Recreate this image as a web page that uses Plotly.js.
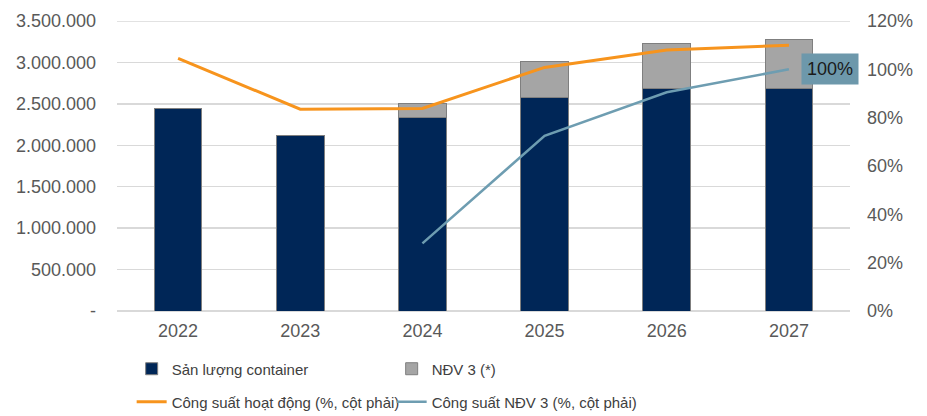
<!DOCTYPE html>
<html>
<head>
<meta charset="utf-8">
<script src="https://cdn.plot.ly/plotly-3.0.1.min.js"></script>
<style>html,body{margin:0;padding:0;background:#fff;}#chart{width:927px;height:416px;}</style>
</head>
<body>
<div id="chart"></div>
<script>
const years = ['2022', '2023', '2024', '2025', '2026', '2027'];
const sanLuong = [2450000, 2120000, 2335000, 2575000, 2685000, 2685000];
const ndv3 = [null, null, 170000, 440000, 545000, 595000];
const congSuatHoatDong = [1.045, 0.835, 0.838, 1.008, 1.08, 1.10];
const congSuatNDV3 = [null, null, 0.28, 0.725, 0.905, 1.0];
const leftTickVals = [0, 500000, 1000000, 1500000, 2000000, 2500000, 3000000, 3500000];
const leftTickText = ['-', '500.000', '1.000.000', '1.500.000', '2.000.000', '2.500.000', '3.000.000', '3.500.000'];
const seriesNames = ['Sản lượng container', 'NĐV 3 (*)', 'Công suất hoạt động (%, cột phải)', 'Công suất NĐV 3 (%, cột phải)'];
const labelText = '100%';

const FONT = 'Liberation Sans, Arial, sans-serif';
const traces = [
  {type: 'bar', x: years, y: sanLuong, name: seriesNames[0], width: 0.39,
   marker: {color: '#002657', line: {color: '#7f7f7f', width: 1}}, legend: 'legend'},
  {type: 'bar', x: years, y: ndv3, name: seriesNames[1], width: 0.39,
   marker: {color: '#a5a5a5', line: {color: '#7f7f7f', width: 1}}, legend: 'legend'},
  {type: 'scatter', mode: 'lines', x: years, y: congSuatHoatDong, name: seriesNames[2], yaxis: 'y2',
   line: {color: '#f7941d', width: 3}, legend: 'legend2'},
  {type: 'scatter', mode: 'lines', x: years, y: congSuatNDV3, name: seriesNames[3], yaxis: 'y2',
   line: {color: '#6e9db1', width: 2.5}, connectgaps: false, legend: 'legend2'}
];

const layout = {
  width: 927, height: 416,
  margin: {l: 117, r: 77, t: 21, b: 105, autoexpand: false},
  paper_bgcolor: '#fff', plot_bgcolor: '#fff',
  barmode: 'stack',
  font: {family: FONT, size: 18, color: '#595959'},
  xaxis: {type: 'category', range: [-0.5, years.length - 0.5], autorange: false,
    showgrid: false, showline: false, zeroline: false, ticks: '', ticklabelstandoff: 7,
    tickfont: {family: FONT, size: 18, color: '#595959'}},
  yaxis: {range: [0, 3500000], autorange: false, tickvals: leftTickVals, ticktext: leftTickText,
    showgrid: true, gridcolor: '#d9d9d9', gridwidth: 1.5, zeroline: true, zerolinecolor: '#d9d9d9',
    zerolinewidth: 1.5, showline: false, ticklabelstandoff: 20,
    tickfont: {family: FONT, size: 18, color: '#595959'}, ticks: ''},
  yaxis2: {range: [0, 1.2], autorange: false, dtick: 0.2, tickformat: '.0%', overlaying: 'y', side: 'right',
    showgrid: false, zeroline: false, showline: false, ticks: '', ticklabelstandoff: 16,
    tickfont: {family: FONT, size: 18, color: '#595959'}},
  shapes: [
    {type: 'line', xref: 'paper', yref: 'y', x0: 0, x1: 1, y0: leftTickVals[0], y1: leftTickVals[0],
     line: {color: '#d9d9d9', width: 1.5}, layer: 'below'},
    {type: 'line', xref: 'paper', yref: 'y', x0: 0, x1: 1,
     y0: leftTickVals[leftTickVals.length - 1], y1: leftTickVals[leftTickVals.length - 1],
     line: {color: '#d9d9d9', width: 1.5}, layer: 'below'}
  ],
  showlegend: true,
  legend: {orientation: 'h', x: 0.02, xanchor: 'left', y: -0.143, yanchor: 'top',
    font: {family: FONT, size: 15, color: '#404040'}, entrywidth: 215, traceorder: 'normal',
    bgcolor: 'rgba(0,0,0,0)'},
  legend2: {orientation: 'h', x: 0.02, xanchor: 'left', y: -0.257, yanchor: 'top',
    font: {family: FONT, size: 15, color: '#404040'}, entrywidth: 215, traceorder: 'normal',
    bgcolor: 'rgba(0,0,0,0)'},
  annotations: [{x: years.length - 1, y: congSuatNDV3[years.length - 1], xref: 'x', yref: 'y2', text: labelText,
    showarrow: false, xanchor: 'left', yanchor: 'middle', xshift: 12,
    bgcolor: '#6d98ab', borderpad: 5, font: {family: FONT, size: 18, color: '#1a1a1a'}}]
};

Plotly.newPlot('chart', traces, layout, {displayModeBar: false, staticPlot: true});
</script>
</body>
</html>
